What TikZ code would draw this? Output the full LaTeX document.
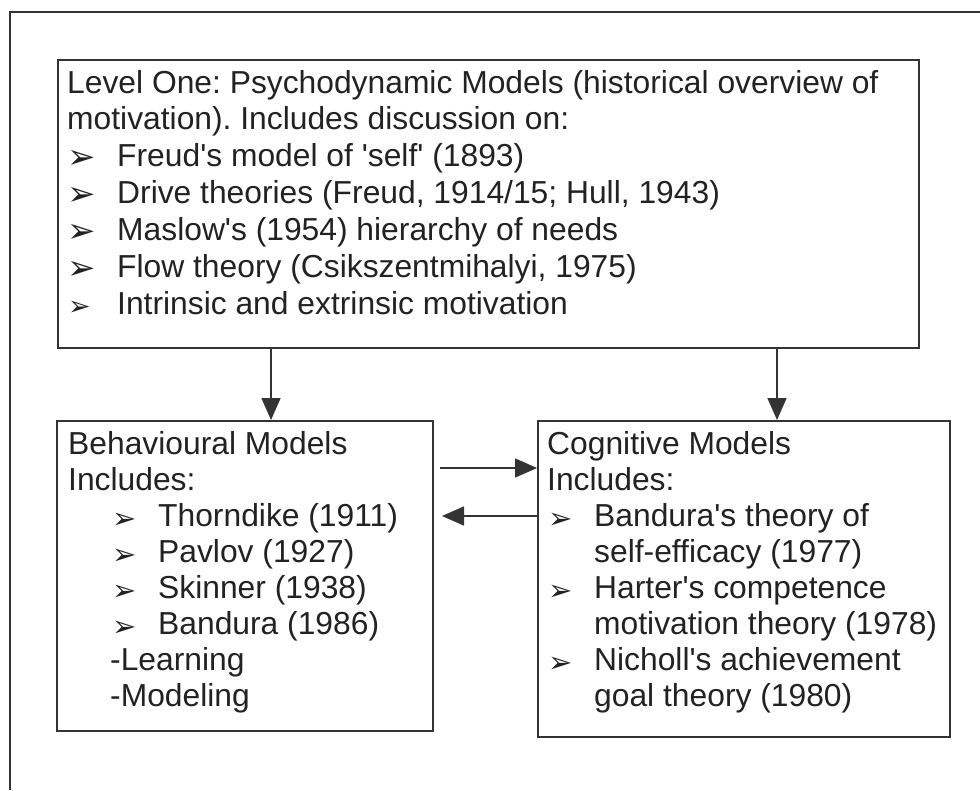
\documentclass[tikz,border=0pt]{standalone}
\usepackage{fontspec}
\setmainfont{Liberation Sans}
\newfontfamily\bulfont{DejaVu Sans}
\usetikzlibrary{arrows.meta}
\definecolor{ink}{HTML}{222222}
\definecolor{linec}{HTML}{333333}
\begin{document}
\frenchspacing
\begin{tikzpicture}[x=1pt,y=-1pt,
  box/.style={draw=linec, line width=1.8pt, inner sep=0pt, anchor=north west},
  txt/.style={inner sep=0pt, anchor=base west, text=ink, font=\fontsize{31.8}{36}\selectfont\frenchspacing},
  bulbig/.style={inner sep=0pt, anchor=base west, text=ink, font=\bulfont\fontsize{34}{36}\selectfont},
  bulsmall/.style={inner sep=0pt, anchor=base west, text=ink, font=\bulfont\fontsize{29}{32}\selectfont},
  bultiny/.style={inner sep=0pt, anchor=base west, text=ink, font=\bulfont\fontsize{27}{30}\selectfont},
  arr/.style={draw=linec, line width=1.6pt, -{Triangle[length=22pt,width=19pt]}}]
\useasboundingbox (0,0) rectangle (980,790);
% cropped outer frame
\draw[linec, line width=2pt] (9.5,790) -- (9.5,11.5) -- (980,11.5);
% boxes
\node[box, minimum width=861pt, minimum height=288pt] (top) at (57,59) {};
\node[box, minimum width=376pt, minimum height=310pt] (beh) at (56,420) {};
\node[box, minimum width=412pt, minimum height=316pt] (cog) at (537,420) {};
% top box text
\node[txt] (t1) at (67,93) {Level One: Psychodynamic Models (historical overview of};
\node[txt] (t2) at (67,129.5) {motivation). Includes discussion on:};
\node[bulbig] (tb3) at (67,168) {➢};
\node[txt] (t3) at (117,166) {Freud\textquotesingle s model of \textquotesingle self\textquotesingle\ (1893)};
\node[bulbig] (tb4) at (67,205) {➢};
\node[txt] (t4) at (117,203) {Drive theories (Freud, 1914/15; Hull, 1943)};
\node[bulbig] (tb5) at (67,242) {➢};
\node[txt] (t5) at (117,240) {Maslow\textquotesingle s (1954) hierarchy of needs};
\node[bulbig] (tb6) at (67,279) {➢};
\node[txt] (t6) at (117,277) {Flow theory (Csikszentmihalyi, 1975)};
\node[bultiny] (tb7) at (68,315) {➢};
\node[txt] (t7) at (117,314) {Intrinsic and extrinsic motivation};
% behavioural box text
\node[txt] (bt1) at (68,454) {Behavioural Models};
\node[txt] (bt2) at (68,490) {Includes:};
\node[bulsmall] (bb3) at (112,528) {➢};
\node[txt] (bt3) at (158,526) {Thorndike (1911)};
\node[bulsmall] (bb4) at (112,564) {➢};
\node[txt] (bt4) at (158,562) {Pavlov (1927)};
\node[bulsmall] (bb5) at (112,600) {➢};
\node[txt] (bt5) at (158,598) {Skinner (1938)};
\node[bulsmall] (bb6) at (112,636) {➢};
\node[txt] (bt6) at (158,634) {Bandura (1986)};
\node[txt] (bt7) at (110,670) {-Learning};
\node[txt] (bt8) at (110,706) {-Modeling};
% cognitive box text
\node[txt] (ct1) at (547,454) {Cognitive Models};
\node[txt] (ct2) at (547,490) {Includes:};
\node[bulsmall] (cb3) at (548,528) {➢};
\node[txt] (ct3) at (594,526) {Bandura\textquotesingle s theory of};
\node[txt] (ct4) at (594,562) {self-efficacy (1977)};
\node[bulsmall] (cb5) at (548,600) {➢};
\node[txt] (ct5) at (594,598) {Harter\textquotesingle s competence};
\node[txt] (ct6) at (594,634) {motivation theory (1978)};
\node[bulsmall] (cb7) at (548,672) {➢};
\node[txt] (ct7) at (594,670) {Nicholl\textquotesingle s achievement};
\node[txt] (ct8) at (594,706) {goal theory (1980)};
% connectors
\coordinate (a1) at (271,0);
\coordinate (a2) at (777,0);
\coordinate (h1) at (440,468);
\coordinate (h2) at (442,516);
\draw[arr] (a1 |- top.south) -- (a1 |- beh.north);
\draw[arr] (a2 |- top.south) -- (a2 |- cog.north);
\draw[arr] (h1) -- (h1 -| cog.west);
\draw[arr] (h2 -| cog.west) -- (h2);
\end{tikzpicture}
\end{document}
